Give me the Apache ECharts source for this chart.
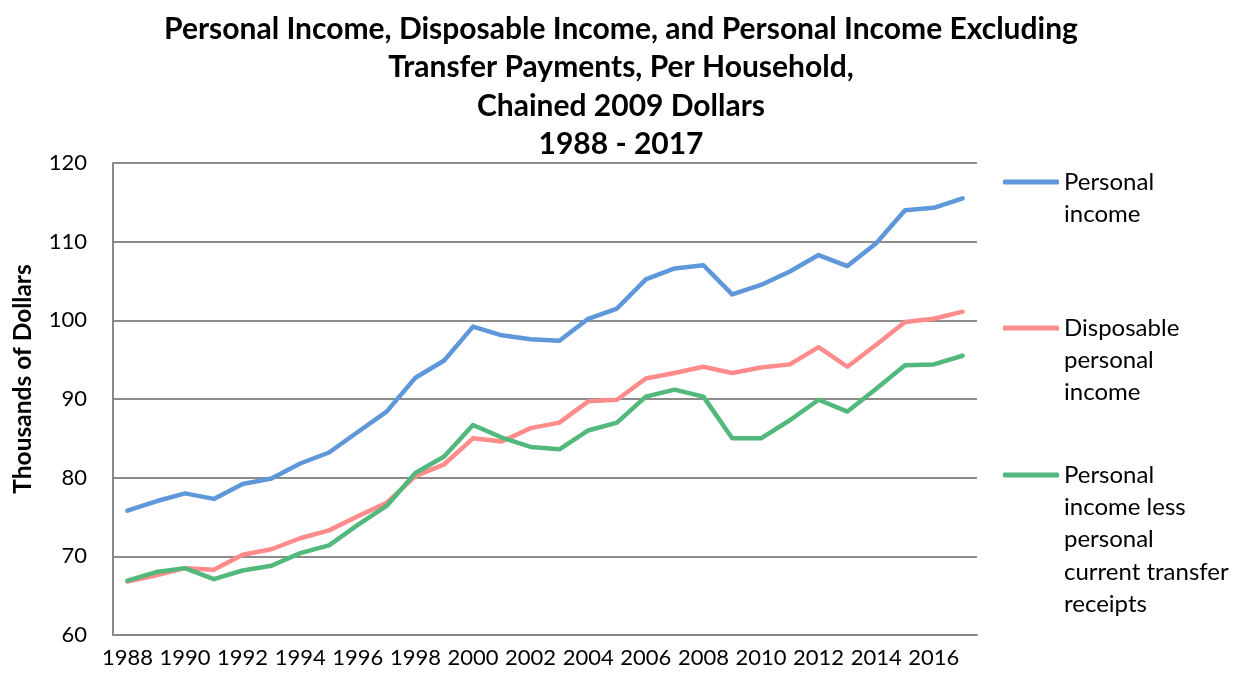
<!DOCTYPE html>
<html><head><meta charset="utf-8">
<script src="https://cdn.jsdelivr.net/npm/echarts@6/dist/echarts.min.js"></script>
<style>html,body{margin:0;padding:0;background:#fff}#c{width:1242px;height:681px}</style>
</head><body><div id="c"></div>
<script>
const years = ['1988','1989','1990','1991','1992','1993','1994','1995','1996','1997','1998','1999','2000','2001','2002','2003','2004','2005','2006','2007','2008','2009','2010','2011','2012','2013','2014','2015','2016','2017'];
const personalIncome = [75.8,77.0,78.0,77.3,79.2,79.9,81.8,83.2,85.8,88.4,92.7,94.9,99.2,98.1,97.6,97.4,100.2,101.5,105.2,106.6,107.0,103.3,104.5,106.2,108.3,106.9,109.8,114.0,114.3,115.5];
const disposableIncome = [66.8,67.6,68.5,68.3,70.2,70.9,72.3,73.3,75.1,76.8,80.2,81.7,85.0,84.6,86.3,87.0,89.7,89.9,92.6,93.3,94.1,93.3,94.0,94.4,96.6,94.1,96.9,99.8,100.2,101.1];
const lessTransfers = [66.9,68.0,68.5,67.1,68.2,68.8,70.4,71.4,74.0,76.4,80.6,82.7,86.7,85.1,83.9,83.6,86.0,87.0,90.3,91.2,90.3,85.0,85.0,87.3,89.9,88.4,91.3,94.3,94.4,95.5];
const names = ['Personal\nincome','Disposable\npersonal\nincome','Personal\nincome less\npersonal\ncurrent transfer\nreceipts'];
const colors = ['#5f97db','#ff8b8b','#52b87c'];
const yTicks = {min:60, max:120, interval:10};

const FONT = 'Lato';
const LH = 32.3;
// first-line centre of each legend entry (px from top)
function legendFor(i, firstLineY){
  const n = names[i].split('\n').length;
  const h = (2*n-1)*LH;
  return {
    left: 1003, top: firstLineY - h/2, orient: 'vertical', padding: 0,
    icon: 'roundRect', itemWidth: 56, itemHeight: 5,
    data: [names[i]],
    formatter: function(nm){ return ' \n'.repeat(n-1) + nm; },
    textStyle: {fontFamily: FONT, fontSize: 24, color: '#000', lineHeight: LH}
  };
}
const chart = echarts.init(document.getElementById('c'));
chart.setOption({
  animation: false,
  title: {
    text: 'Personal Income, Disposable Income, and Personal Income Excluding\nTransfer Payments, Per Household,\nChained 2009 Dollars\n1988 - 2017',
    left: 'center', top: 5,
    textStyle: {fontFamily: FONT, fontWeight: 'bold', fontSize: 30, color: '#000', lineHeight: 38.5}
  },
  legend: [legendFor(0, 182), legendFor(1, 328), legendFor(2, 475)],
  grid: {left: 113, right: 265, top: 163, bottom: 46, containLabel: false},
  xAxis: {
    type: 'category', data: years, boundaryGap: true,
    axisLine: {lineStyle: {color: '#888', width: 2}},
    axisTick: {show: false},
    axisLabel: {interval: 1, margin: 12, fontFamily: FONT, fontSize: 22, color: '#000'}
  },
  yAxis: {
    type: 'value', min: yTicks.min, max: yTicks.max, interval: yTicks.interval,
    name: 'Thousands of Dollars', nameLocation: 'middle', nameGap: 77, nameRotate: 90,
    nameTextStyle: {fontFamily: FONT, fontWeight: 'bold', fontSize: 24.5, color: '#000', padding: [0,0,0,40]},
    axisLine: {show: true, lineStyle: {color: '#888', width: 2}},
    axisTick: {show: false},
    axisLabel: {margin: 26, fontFamily: FONT, fontSize: 22, color: '#000'},
    splitLine: {lineStyle: {color: '#8c8c8c', width: 2}}
  },
  series: [
    {name: names[0], type: 'line', data: personalIncome, showSymbol: false, symbol: 'none', color: colors[0], lineStyle: {width: 4.5, cap: 'round', join: 'round'}},
    {name: names[1], type: 'line', data: disposableIncome, showSymbol: false, symbol: 'none', color: colors[1], lineStyle: {width: 4.5, cap: 'round', join: 'round'}},
    {name: names[2], type: 'line', data: lessTransfers, showSymbol: false, symbol: 'none', color: colors[2], lineStyle: {width: 4.5, cap: 'round', join: 'round'}}
  ]
});
</script></body></html>
